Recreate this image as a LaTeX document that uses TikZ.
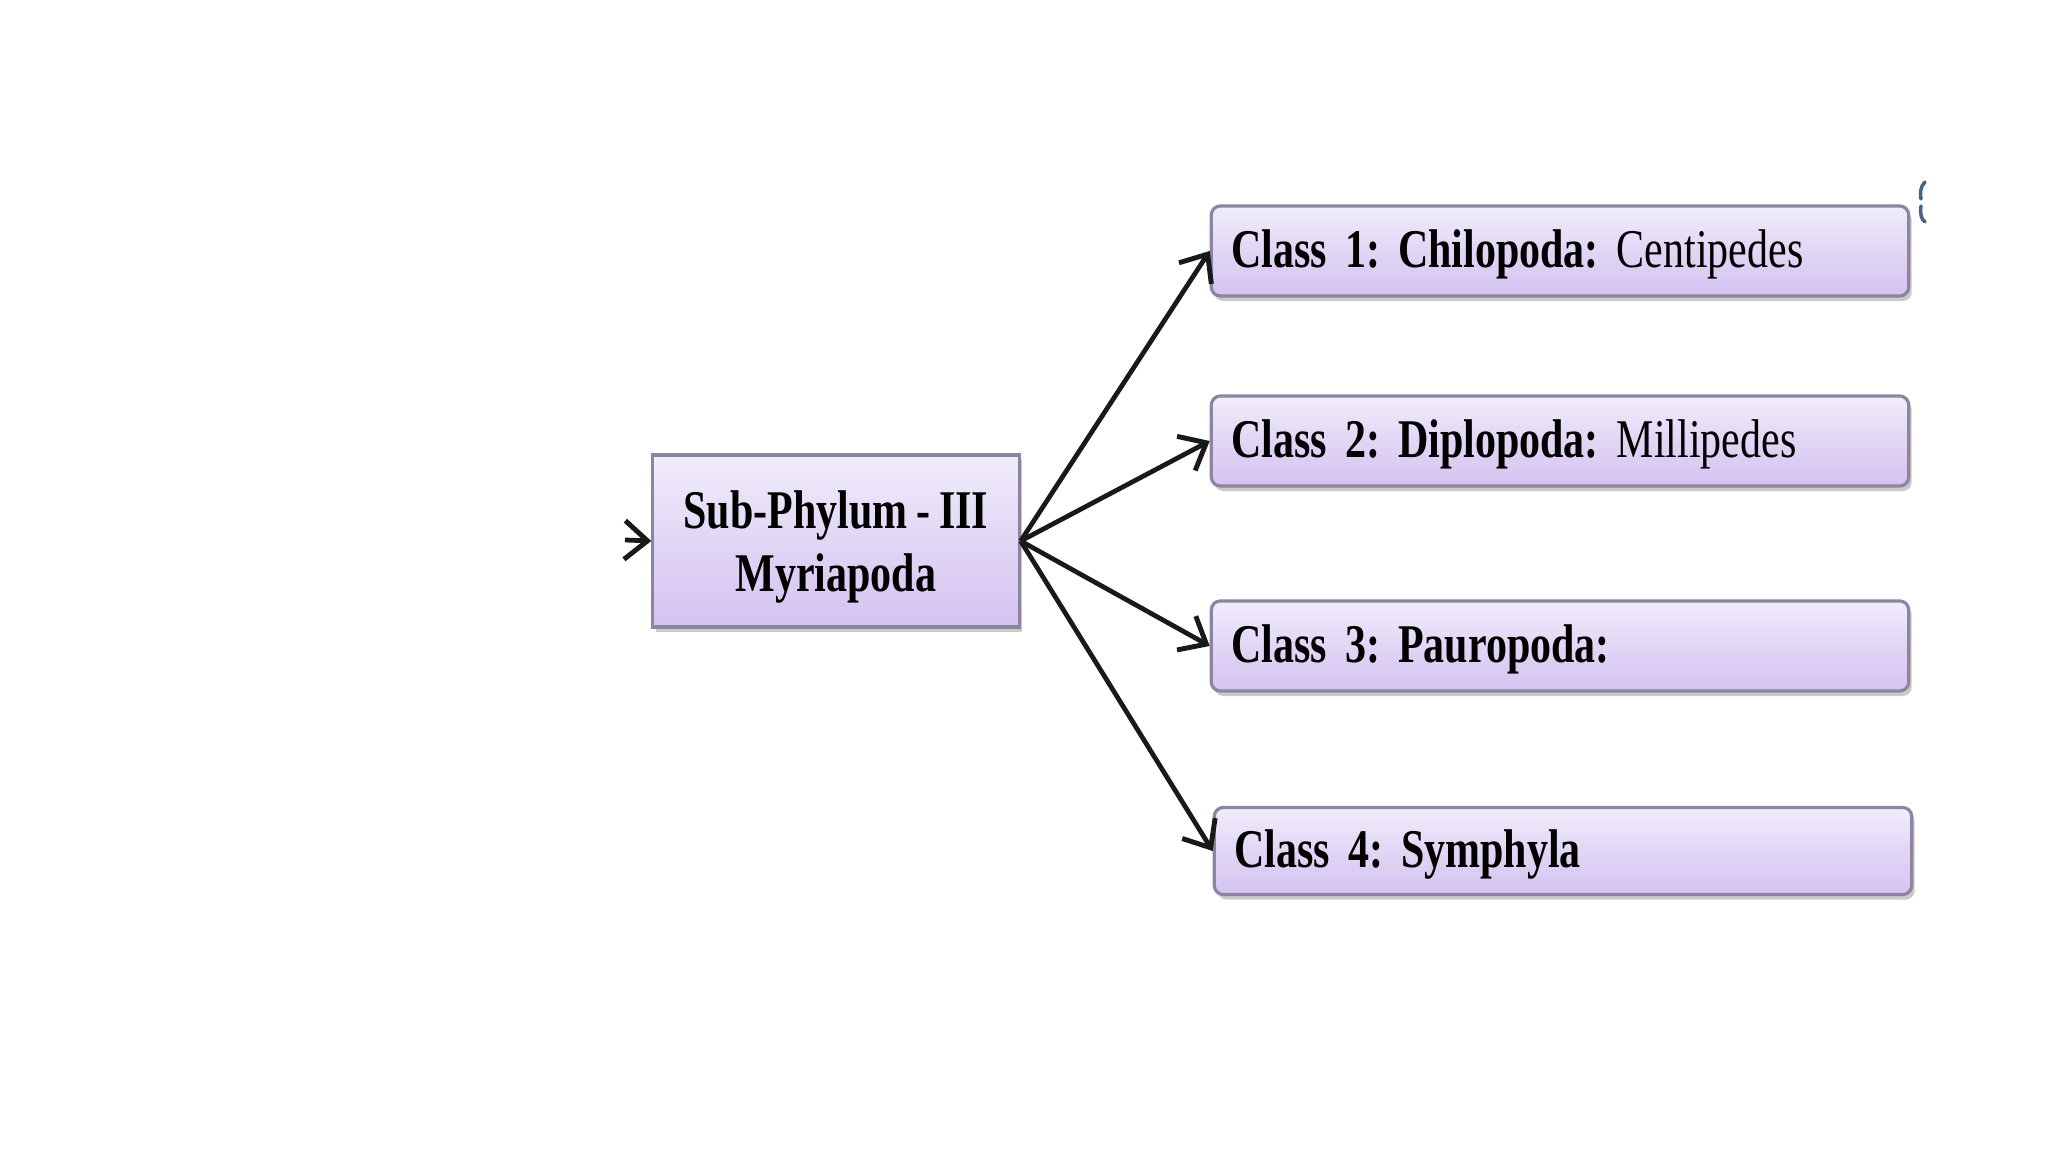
\documentclass[tikz,border=0pt]{standalone}
\usepackage{fontspec}
\setmainfont{Liberation Serif}[FakeStretch=0.77, WordSpace=0.85]
\frenchspacing
\usetikzlibrary{shadows,arrows.meta}
\definecolor{boxtop}{RGB}{241,237,251}
\definecolor{boxbot}{RGB}{212,195,240}
\definecolor{boxline}{RGB}{140,132,160}
\definecolor{fragblue}{RGB}{70,100,130}
\tikzset{
  boxbase/.style={draw=boxline, line width=0.9pt, top color=boxtop, bottom color=boxbot, middle color=boxbot!55!boxtop,
    drop shadow={shadow xshift=0.03cm, shadow yshift=-0.05cm, opacity=0.35, fill=black!60}},
  mainbox/.style={boxbase, minimum width=3.66cm, minimum height=1.72cm, inner sep=0pt, align=center,
    font=\fontsize{15.5}{18}\selectfont\bfseries\frenchspacing},
  classbox/.style={boxbase, rounded corners=0.09cm, minimum width=6.97cm, minimum height=0.9cm,
    text width=6.57cm, inner xsep=0.2cm, inner ysep=0pt, align=left, text height=12.5pt, text depth=3.3pt,
    font=\fontsize{15.5}{18}\selectfont\frenchspacing},
  link/.style={-{Straight Barb[length=6.5pt, width=11pt, line width=1.4pt]}, line width=1.35pt, black!90}
}
\begin{document}
\begin{tikzpicture}[x=0.01cm, y=-0.01cm]
\useasboundingbox (0,0) rectangle (2048,1152);
\node[mainbox] (main) at (836,541) {\rule{0pt}{14pt}Sub-Phylum - III\\Myriapoda};
\node[classbox] (c1) at (1560,251) {\textbf{Class 1: Chilopoda:} Centipedes};
\node[classbox] (c2) at (1560,441) {\textbf{Class 2: Diplopoda:} Millipedes};
\node[classbox] (c3) at (1560,646) {\textbf{Class 3: Pauropoda:}};
\node[classbox, minimum height=0.87cm] (c4) at (1563,851) {\textbf{Class 4: Symphyla}};
\coordinate (in) at (625,540);
\draw[link] (in) -- (main.west);
\draw[link] (main.east) -- (c1.west);
\draw[link] (main.east) -- (c2.west);
\draw[link] (main.east) -- (c3.west);
\draw[link] (main.east) -- (c4.west);
\draw[fragblue, line width=1pt, line cap=round] (1925,182) .. controls (1920,186) and (1920,195) .. (1921,199);
\draw[fragblue, line width=1pt, line cap=round] (1921,206) .. controls (1920,214) and (1921,219) .. (1925,222);
\end{tikzpicture}
\end{document}
